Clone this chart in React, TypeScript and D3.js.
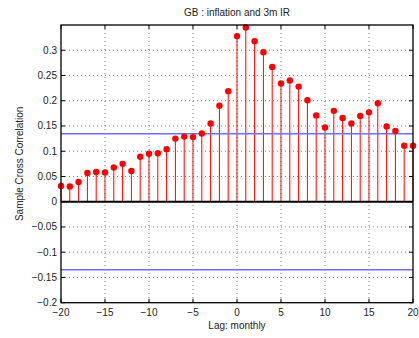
import React from "react";
import * as d3 from "d3";

const lags: number[] = d3.range(-20, 21);
const xcf: number[] = [
  0.031, 0.030, 0.039, 0.057, 0.059, 0.058, 0.068, 0.075, 0.061, 0.089,
  0.095, 0.096, 0.104, 0.125, 0.129, 0.128, 0.135, 0.155, 0.190, 0.219,
  0.328, 0.345, 0.318, 0.296, 0.267, 0.234, 0.240, 0.228, 0.201, 0.171,
  0.147, 0.180, 0.166, 0.155, 0.170, 0.177, 0.195, 0.149, 0.140, 0.111,
  0.111,
];
const bound = 0.1347;
const xTicks = [-20, -15, -10, -5, 0, 5, 10, 15, 20];
const yTicks = [-0.2, -0.15, -0.1, -0.05, 0, 0.05, 0.1, 0.15, 0.2, 0.25, 0.3];
const title = "GB : inflation and 3m IR";
const xLabel = "Lag: monthly";
const yLabel = "Sample Cross Correlation";

export default function App() {
  const W = 419, H = 338;
  const left = 61, right = 413, top = 25, bottom = 302.7;
  const x = d3.scaleLinear().domain([-20, 20]).range([left, right]);
  const y = d3.scaleLinear().domain([-0.2, 0.35]).range([bottom, top]);
  const font = "Liberation Sans, Arial, sans-serif";
  const fmt = (v: number) => {
    const s = d3.format("")(+v.toFixed(2));
    return s.replace("-", "\u2212");
  };
  return (
    <svg width={W} height={H} style={{ position: "absolute", left: 0, top: 0, background: "#fff" }} fontFamily={font}>
      {/* grid */}
      {xTicks.slice(1, -1).map((t) => (
        <line key={"gx" + t} x1={x(t)} x2={x(t)} y1={top} y2={bottom} stroke="#555" strokeWidth={0.8} strokeDasharray="1,3" />
      ))}
      {yTicks.filter((t) => t !== 0 && t !== -0.2).map((t) => (
        <line key={"gy" + t} x1={left} x2={right} y1={y(t)} y2={y(t)} stroke="#555" strokeWidth={0.8} strokeDasharray="1,3" />
      ))}
      {/* stems */}
      {lags.map((l, i) => (
        <line key={"s" + l} x1={x(l)} x2={x(l)} y1={y(0)} y2={y(xcf[i])} stroke="#f00" strokeWidth={1} />
      ))}
      {/* bounds */}
      <line x1={left} x2={right} y1={y(bound)} y2={y(bound)} stroke="#6f6ff2" strokeWidth={1.5} />
      <line x1={left} x2={right} y1={y(-bound)} y2={y(-bound)} stroke="#6f6ff2" strokeWidth={1.5} />
      {/* zero line */}
      <line x1={left} x2={right} y1={y(0)} y2={y(0)} stroke="#000" strokeWidth={2} />
      {/* markers */}
      {lags.map((l, i) => (
        <circle key={"m" + l} cx={x(l)} cy={y(xcf[i])} r={3.2} fill="#f00" />
      ))}
      {/* box */}
      <rect x={left} y={top} width={right - left} height={bottom - top} fill="none" stroke="#000" strokeWidth={1.3} />
      {/* ticks */}
      {xTicks.map((t) => (
        <g key={"tx" + t}>
          <line x1={x(t)} x2={x(t)} y1={bottom} y2={bottom - 4} stroke="#000" />
          <line x1={x(t)} x2={x(t)} y1={top} y2={top + 4} stroke="#000" />
          <text x={x(t)} y={316} fontSize={10} textAnchor="middle" fill="#222">{fmt(t)}</text>
        </g>
      ))}
      {yTicks.map((t) => (
        <g key={"ty" + t}>
          <line x1={left} x2={left + 4} y1={y(t)} y2={y(t)} stroke="#000" />
          <line x1={right} x2={right - 4} y1={y(t)} y2={y(t)} stroke="#000" />
          <text x={57} y={y(t)} dy="0.35em" fontSize={10} textAnchor="end" fill="#222">{fmt(t)}</text>
        </g>
      ))}
      <text x={(left + right) / 2} y={16} fontSize={10} textAnchor="middle" fill="#222">{title}</text>
      <text x={(left + right) / 2} y={329} fontSize={10} textAnchor="middle" fill="#222">{xLabel}</text>
      <text transform={`translate(23,${(top + bottom) / 2}) rotate(-90)`} fontSize={10} textAnchor="middle" fill="#222">{yLabel}</text>
    </svg>
  );
}
